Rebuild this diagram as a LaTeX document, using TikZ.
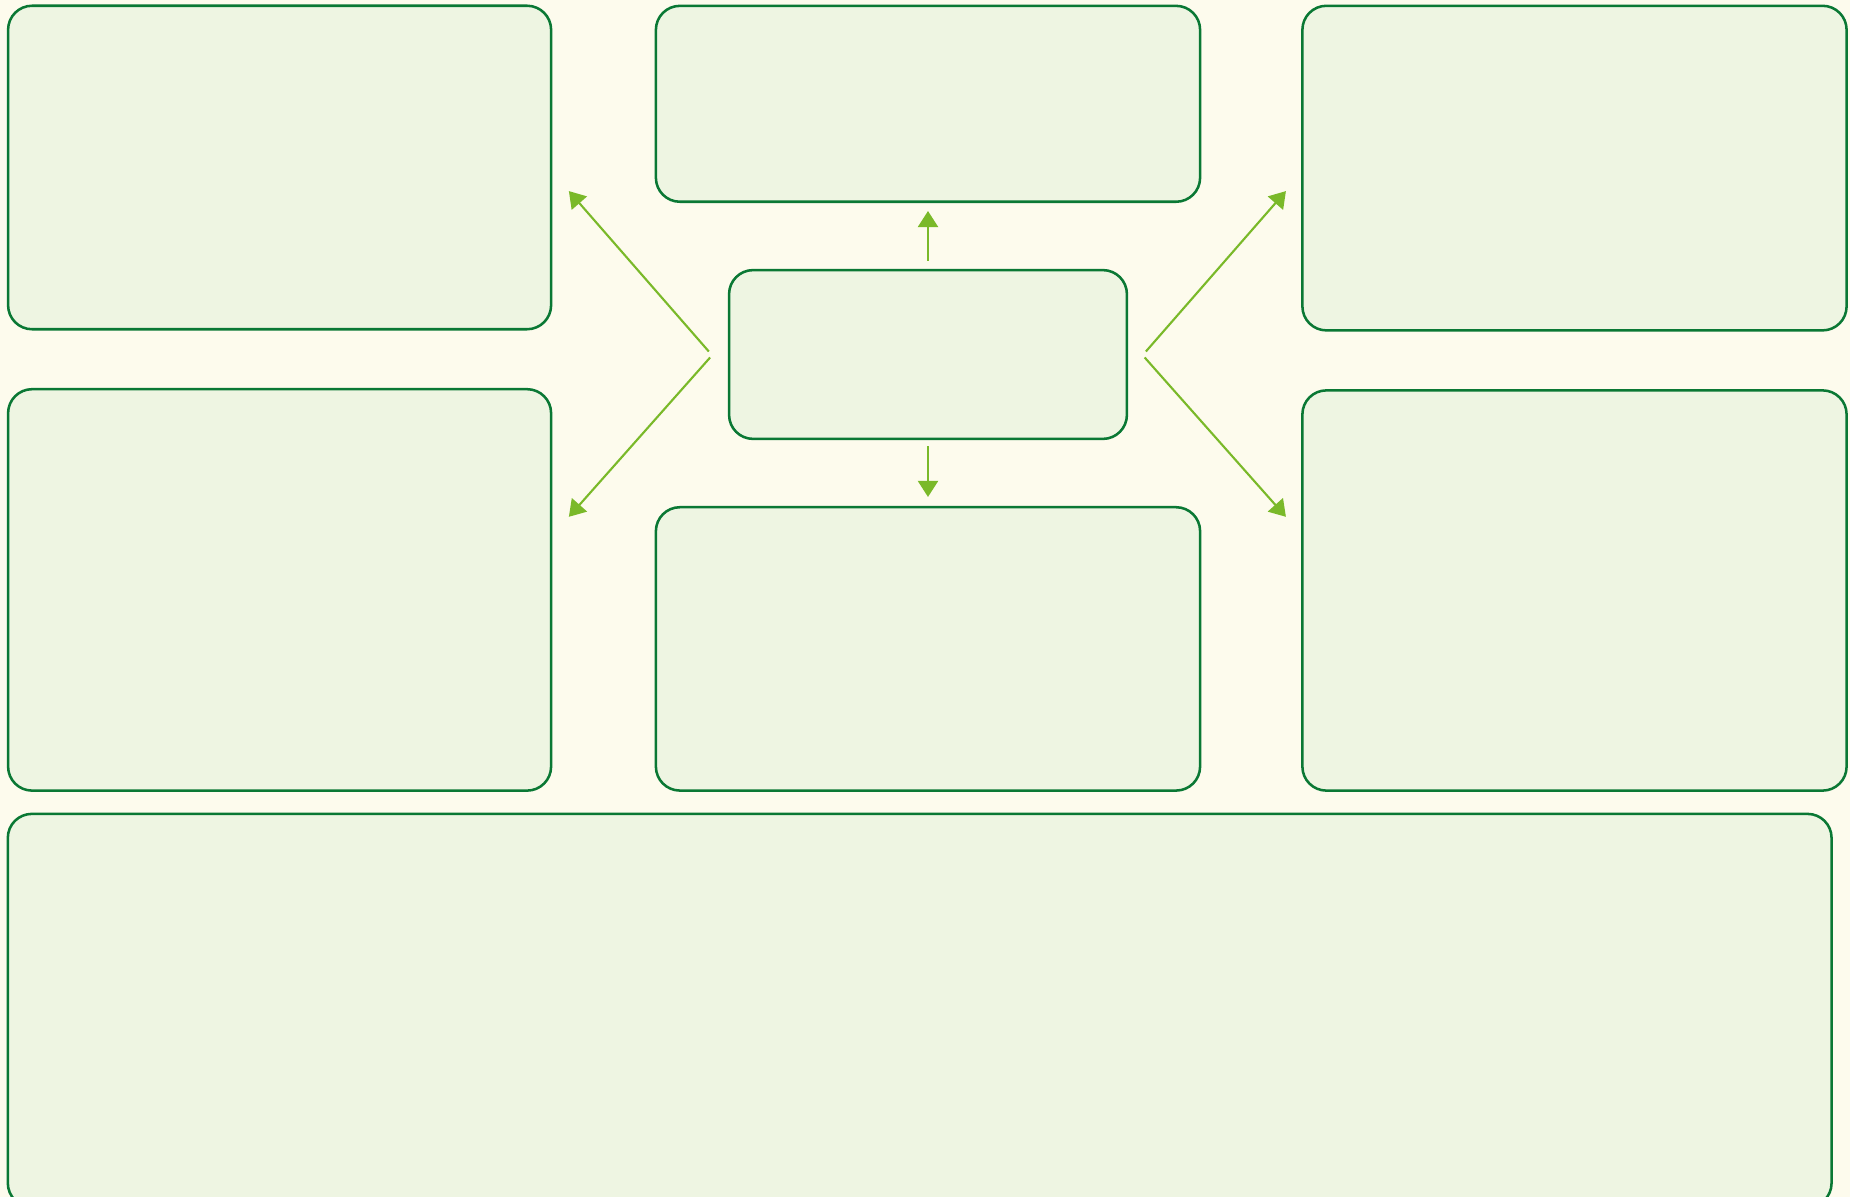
\documentclass[tikz,border=0pt]{standalone}
\usepackage{xcolor}
\usepackage{tikz}
\usetikzlibrary{arrows.meta, positioning, calc}
\definecolor{mycream}{RGB}{253,251,237}
\definecolor{myleaf}{RGB}{238,245,226}
\definecolor{mygreen}{RGB}{10,120,52}
\definecolor{mylime}{RGB}{122,185,41}
\tikzset{
  card/.style={rectangle, draw=mygreen, fill=myleaf, inner sep=0pt,
    rounded corners=0.24cm, line width=0.72pt},
  arrow/.style={-{Triangle[length=0.16cm, width=0.2cm]}, line width=0.6pt, color=mylime}
}
\begin{document}
\begin{tikzpicture}[x=0.01cm, y=-0.01cm]
  % Canvas
  \fill[mycream] (0,0) rectangle (1850,1197);
  \useasboundingbox (0,0) rectangle (1850,1197);
  % Hub
  \node[card, minimum width=3.976cm, minimum height=1.687cm] (hub) at (928,354.5) {};
  % Middle column
  \node[card, minimum width=5.439cm, minimum height=1.958cm] (upbox) at (928,103.8) {};
  \node[card, minimum width=5.439cm, minimum height=2.832cm] (downbox) at (928,648.9) {};
  % Left column
  \node[card, minimum width=5.427cm, minimum height=3.233cm] (nwbox) at (279.6,167.5) {};
  \node[card, minimum width=5.427cm, minimum height=4.012cm] (swbox) at (279.6,589.9) {};
  % Right column
  \node[card, minimum width=5.439cm, minimum height=3.244cm] (nebox) at (1574.5,168.1) {};
  \node[card, minimum width=5.439cm, minimum height=4.0cm] (sebox) at (1574.5,590.5) {};
  % Wide footer
  \node[card, minimum width=18.227cm, minimum height=3.93cm] (footbox) at (919.7,1010.5) {};
  % Arrows up and down
  \draw[arrow, shorten <=0.08cm, shorten >=0.08cm] (hub.north) -- (upbox.south);
  \draw[arrow, shorten <=0.06cm, shorten >=0.09cm] (hub.south) -- (downbox.north);
  % Arrows to the sides
  \draw[arrow] ([shift={(-19,-3)}]hub.west) -- ([shift={(16.5,23.6)}]nwbox.east);
  \draw[arrow] ([shift={(-17.7,3)}]hub.west) -- ([shift={(16.5,-73.1)}]swbox.east);
  \draw[arrow] ([shift={(17.7,-3)}]hub.east) -- ([shift={(-15.2,23)}]nebox.west);
  \draw[arrow] ([shift={(16.5,3)}]hub.east) -- ([shift={(-15.2,-73.7)}]sebox.west);
\end{tikzpicture}
\end{document}
